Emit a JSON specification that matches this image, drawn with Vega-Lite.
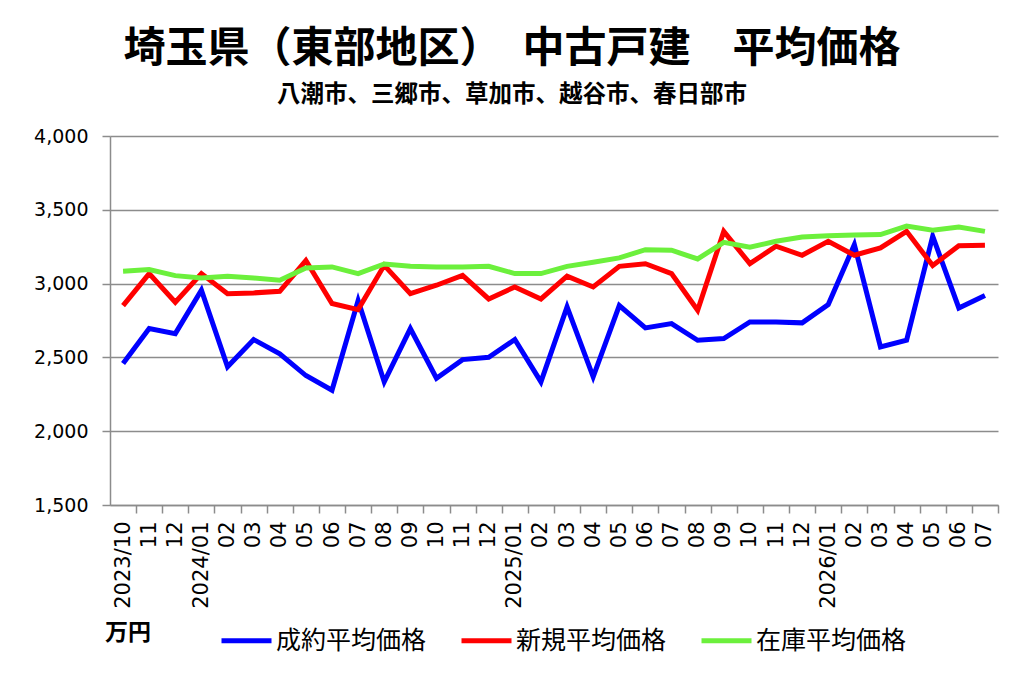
{
  "$schema": "https://vega.github.io/schema/vega-lite/v6.json",
  "description": "Saitama east area used detached house average prices, monthly, three series.",
  "autosize": {"type": "none"},
  "width": 888,
  "height": 369,
  "padding": {"left": 110, "top": 136, "right": 26, "bottom": 173},
  "background": "white",
  "title": {
    "text": "埼玉県（東部地区）　中古戸建　平均価格",
    "subtitle": "八潮市、三郷市、草加市、越谷市、春日部市",
    "anchor": "middle",
    "frame": "group",
    "dx": -42,
    "offset": 20,
    "font": "Noto Sans CJK JP",
    "fontSize": 42,
    "fontWeight": "bold",
    "color": "black",
    "subtitleFont": "Noto Sans CJK JP",
    "subtitleFontSize": 23.5,
    "subtitleFontWeight": "bold",
    "subtitleColor": "black",
    "subtitlePadding": 12
  },
  "data": {
    "values": [
      {"m": "2023/10", "s": "成約平均価格", "v": 2458},
      {"m": "2023/11", "s": "成約平均価格", "v": 2695},
      {"m": "2023/12", "s": "成約平均価格", "v": 2661},
      {"m": "2024/01", "s": "成約平均価格", "v": 2955},
      {"m": "2024/02", "s": "成約平均価格", "v": 2436},
      {"m": "2024/03", "s": "成約平均価格", "v": 2621},
      {"m": "2024/04", "s": "成約平均価格", "v": 2524},
      {"m": "2024/05", "s": "成約平均価格", "v": 2377},
      {"m": "2024/06", "s": "成約平均価格", "v": 2278},
      {"m": "2024/07", "s": "成約平均価格", "v": 2885},
      {"m": "2024/08", "s": "成約平均価格", "v": 2334},
      {"m": "2024/09", "s": "成約平均価格", "v": 2695},
      {"m": "2024/10", "s": "成約平均価格", "v": 2359},
      {"m": "2024/11", "s": "成約平均価格", "v": 2485},
      {"m": "2024/12", "s": "成約平均価格", "v": 2501},
      {"m": "2025/01", "s": "成約平均価格", "v": 2621},
      {"m": "2025/02", "s": "成約平均価格", "v": 2334},
      {"m": "2025/03", "s": "成約平均価格", "v": 2842},
      {"m": "2025/04", "s": "成約平均価格", "v": 2368},
      {"m": "2025/05", "s": "成約平均価格", "v": 2851},
      {"m": "2025/06", "s": "成約平均価格", "v": 2700},
      {"m": "2025/07", "s": "成約平均価格", "v": 2729},
      {"m": "2025/08", "s": "成約平均価格", "v": 2616},
      {"m": "2025/09", "s": "成約平均価格", "v": 2628},
      {"m": "2025/10", "s": "成約平均価格", "v": 2740},
      {"m": "2025/11", "s": "成約平均価格", "v": 2740},
      {"m": "2025/12", "s": "成約平均価格", "v": 2734},
      {"m": "2026/01", "s": "成約平均価格", "v": 2858},
      {"m": "2026/02", "s": "成約平均価格", "v": 3264},
      {"m": "2026/03", "s": "成約平均価格", "v": 2571},
      {"m": "2026/04", "s": "成約平均価格", "v": 2616},
      {"m": "2026/05", "s": "成約平均価格", "v": 3321},
      {"m": "2026/06", "s": "成約平均価格", "v": 2835},
      {"m": "2026/07", "s": "成約平均価格", "v": 2919},
      {"m": "2023/10", "s": "新規平均価格", "v": 2851},
      {"m": "2023/11", "s": "新規平均価格", "v": 3068},
      {"m": "2023/12", "s": "新規平均価格", "v": 2874},
      {"m": "2024/01", "s": "新規平均価格", "v": 3068},
      {"m": "2024/02", "s": "新規平均価格", "v": 2932},
      {"m": "2024/03", "s": "新規平均価格", "v": 2937},
      {"m": "2024/04", "s": "新規平均価格", "v": 2948},
      {"m": "2024/05", "s": "新規平均価格", "v": 3156},
      {"m": "2024/06", "s": "新規平均価格", "v": 2865},
      {"m": "2024/07", "s": "新規平均価格", "v": 2824},
      {"m": "2024/08", "s": "新規平均価格", "v": 3124},
      {"m": "2024/09", "s": "新規平均価格", "v": 2932},
      {"m": "2024/10", "s": "新規平均価格", "v": 2989},
      {"m": "2024/11", "s": "新規平均価格", "v": 3056},
      {"m": "2024/12", "s": "新規平均価格", "v": 2896},
      {"m": "2025/01", "s": "新規平均価格", "v": 2977},
      {"m": "2025/02", "s": "新規平均価格", "v": 2896},
      {"m": "2025/03", "s": "新規平均価格", "v": 3050},
      {"m": "2025/04", "s": "新規平均価格", "v": 2977},
      {"m": "2025/05", "s": "新規平均価格", "v": 3117},
      {"m": "2025/06", "s": "新規平均価格", "v": 3135},
      {"m": "2025/07", "s": "新規平均価格", "v": 3068},
      {"m": "2025/08", "s": "新規平均価格", "v": 2819},
      {"m": "2025/09", "s": "新規平均価格", "v": 3354},
      {"m": "2025/10", "s": "新規平均価格", "v": 3135},
      {"m": "2025/11", "s": "新規平均価格", "v": 3253},
      {"m": "2025/12", "s": "新規平均価格", "v": 3192},
      {"m": "2026/01", "s": "新規平均価格", "v": 3287},
      {"m": "2026/02", "s": "新規平均価格", "v": 3192},
      {"m": "2026/03", "s": "新規平均価格", "v": 3242},
      {"m": "2026/04", "s": "新規平均価格", "v": 3354},
      {"m": "2026/05", "s": "新規平均価格", "v": 3122},
      {"m": "2026/06", "s": "新規平均価格", "v": 3257},
      {"m": "2026/07", "s": "新規平均価格", "v": 3260},
      {"m": "2023/10", "s": "在庫平均価格", "v": 3084},
      {"m": "2023/11", "s": "在庫平均価格", "v": 3095},
      {"m": "2023/12", "s": "在庫平均価格", "v": 3054},
      {"m": "2024/01", "s": "在庫平均価格", "v": 3038},
      {"m": "2024/02", "s": "在庫平均価格", "v": 3050},
      {"m": "2024/03", "s": "在庫平均価格", "v": 3038},
      {"m": "2024/04", "s": "在庫平均価格", "v": 3023},
      {"m": "2024/05", "s": "在庫平均価格", "v": 3106},
      {"m": "2024/06", "s": "在庫平均価格", "v": 3113},
      {"m": "2024/07", "s": "在庫平均価格", "v": 3068},
      {"m": "2024/08", "s": "在庫平均価格", "v": 3133},
      {"m": "2024/09", "s": "在庫平均価格", "v": 3117},
      {"m": "2024/10", "s": "在庫平均価格", "v": 3113},
      {"m": "2024/11", "s": "在庫平均価格", "v": 3113},
      {"m": "2024/12", "s": "在庫平均価格", "v": 3117},
      {"m": "2025/01", "s": "在庫平均価格", "v": 3068},
      {"m": "2025/02", "s": "在庫平均価格", "v": 3068},
      {"m": "2025/03", "s": "在庫平均価格", "v": 3117},
      {"m": "2025/04", "s": "在庫平均価格", "v": 3144},
      {"m": "2025/05", "s": "在庫平均価格", "v": 3174},
      {"m": "2025/06", "s": "在庫平均価格", "v": 3230},
      {"m": "2025/07", "s": "在庫平均価格", "v": 3226},
      {"m": "2025/08", "s": "在庫平均価格", "v": 3167},
      {"m": "2025/09", "s": "在庫平均価格", "v": 3280},
      {"m": "2025/10", "s": "在庫平均価格", "v": 3246},
      {"m": "2025/11", "s": "在庫平均価格", "v": 3287},
      {"m": "2025/12", "s": "在庫平均価格", "v": 3316},
      {"m": "2026/01", "s": "在庫平均価格", "v": 3325},
      {"m": "2026/02", "s": "在庫平均価格", "v": 3330},
      {"m": "2026/03", "s": "在庫平均価格", "v": 3332},
      {"m": "2026/04", "s": "在庫平均価格", "v": 3390},
      {"m": "2026/05", "s": "在庫平均価格", "v": 3361},
      {"m": "2026/06", "s": "在庫平均価格", "v": 3384},
      {"m": "2026/07", "s": "在庫平均価格", "v": 3354}
    ]
  },
  "mark": {"type": "line", "strokeWidth": 5},
  "encoding": {
    "x": {
      "field": "m",
      "type": "ordinal",
      "scale": {"type": "band", "paddingInner": 0, "paddingOuter": 0},
      "axis": {
        "title": null,
        "labelAngle": -90,
        "labelExpr": "datum.value == '2023/10' || slice(datum.value, 5) == '01' ? datum.value : slice(datum.value, 5)",
        "labelFont": "DejaVu Sans",
        "labelFontSize": 21,
        "labelColor": "black",
        "labelPadding": 8,
        "labelOffset": -13.06,
        "labelOverlap": false,
        "tickSize": 8,
        "tickOffset": 13.06,
        "tickColor": "#8c8c8c",
        "tickWidth": 1.5,
        "domainColor": "#8c8c8c",
        "domainWidth": 1.5,
        "grid": false
      }
    },
    "y": {
      "field": "v",
      "type": "quantitative",
      "scale": {"domain": [1500, 4000], "nice": false, "zero": false},
      "axis": {
        "title": null,
        "values": [1500, 2000, 2500, 3000, 3500, 4000],
        "format": ",d",
        "labelFont": "DejaVu Sans",
        "labelFontSize": 19,
        "labelColor": "black",
        "labelPadding": 14,
        "tickSize": 8,
        "tickColor": "#8c8c8c",
        "tickWidth": 1.5,
        "domainColor": "#8c8c8c",
        "domainWidth": 1.5,
        "grid": true,
        "gridColor": "#8c8c8c",
        "gridWidth": 1.5
      }
    },
    "color": {
      "field": "s",
      "type": "nominal",
      "scale": {
        "domain": ["成約平均価格", "新規平均価格", "在庫平均価格"],
        "range": ["#0000ff", "#ff0000", "#6cf03c"]
      },
      "legend": {
        "title": "万円",
        "orient": "none",
        "legendX": -5,
        "legendY": 477,
        "direction": "horizontal",
        "titleOrient": "left",
        "titleAnchor": "middle",
        "titleBaseline": "middle",
        "titlePadding": 68,
        "titleFont": "Noto Sans CJK JP",
        "titleFontSize": 23,
        "titleFontWeight": "bold",
        "titleColor": "black",
        "symbolType": "stroke",
        "symbolSize": 2500,
        "symbolStrokeWidth": 5,
        "labelFont": "Noto Sans CJK JP",
        "labelFontSize": 25,
        "labelColor": "black",
        "labelOffset": 2,
        "labelLimit": 300,
        "columnPadding": 24
      }
    }
  },
  "config": {
    "view": {"stroke": null}
  }
}
